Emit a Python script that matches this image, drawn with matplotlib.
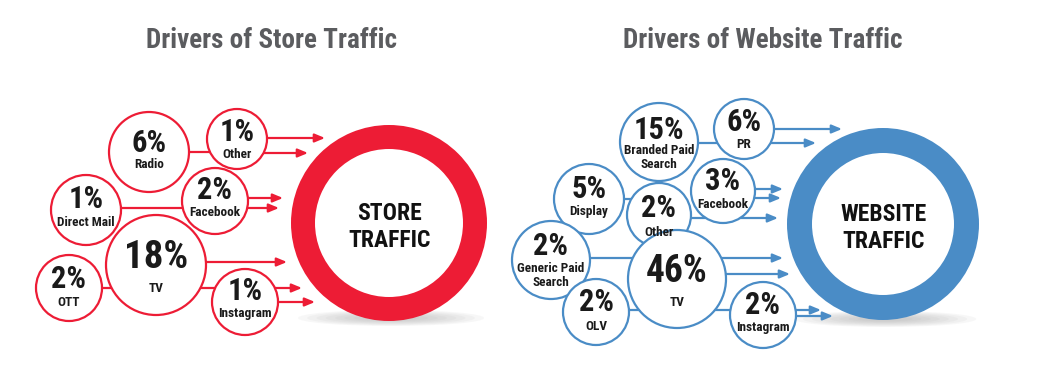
import matplotlib
matplotlib.use("Agg")
import matplotlib.pyplot as plt
from matplotlib.patches import Circle, Wedge, Ellipse
from matplotlib import font_manager as fm

# --- data ---
store_pcts = [6, 1, 1, 2, 18, 2, 1]
store_labels = ["Radio", "Other", "Direct Mail", "Facebook", "TV", "OTT", "Instagram"]
web_pcts = [15, 6, 5, 2, 3, 2, 2, 46, 2]
web_labels = ["Branded Paid\nSearch", "PR", "Display", "Other", "Facebook",
              "Generic Paid\nSearch", "OLV", "TV", "Instagram"]
titles = ["Drivers of Store Traffic", "Drivers of Website Traffic"]
hub_labels = ["STORE\nTRAFFIC", "WEBSITE\nTRAFFIC"]

RED = "#ED1C35"
BLUE = "#4A8CC6"
GREY = "#5B5C5F"

# pick a narrow bold face if there is one
FONT = dict(family="DejaVu Sans", fontstretch="condensed")
for fam in ["Liberation Sans Narrow", "Roboto Condensed", "Open Sans Condensed"]:
    try:
        fm.findfont(fm.FontProperties(family=fam, weight="bold"), fallback_to_default=False)
        FONT = dict(family=fam)
        break
    except ValueError:
        pass

# --- layout (pixel space): cx, cy, r, pct size, pct dy, label dy ---
store_circles = [
    (149, 152, 40, 22, -9, 13),
    (237, 139, 30, 22, -7, 15),
    (86, 210, 35, 22, -11, 12),
    (215, 201, 33, 22, -11, 12),
    (156, 265, 50, 28, -7, 24),
    (69, 288, 33, 22, -9, 15),
    (245, 302, 33, 22, -11, 12),
]
store_links = [(152, 149, 237), (208, 86, 215), (288, 69, 156), (288, 156, 245)]
store_arrows = [(138, 262, 325), (153, 262, 308), (198, 246, 283), (208, 246, 279),
                (262, 204, 287), (288, 274, 302), (302, 274, 315)]
store_hub = (389, 223, 98, 74)

web_circles = [
    (659, 142, 39, 22, -12, 16),
    (744, 129, 30, 22, -7, 15),
    (589, 199, 35, 22, -10, 13),
    (659, 215, 32, 22, -7, 17),
    (723, 191, 32, 22, -10, 13),
    (551, 260, 39, 22, -14, 16),
    (596, 312, 33, 22, -10, 15),
    (677, 279, 49, 27, -7, 24),
    (763, 315, 33, 22, -10, 13),
]
web_links = [(143, 659, 744), (199, 589, 659), (258, 551, 677), (310, 596, 677), (310, 677, 763)]
web_arrows = [(129, 772, 842), (143, 768, 816), (189, 752, 783), (198, 752, 781),
              (218, 689, 778), (258, 720, 783), (274, 722, 790), (310, 793, 821),
              (316, 793, 833)]
web_hub = (883, 224, 96, 71)

fig = plt.figure(figsize=(10.4, 3.71), dpi=100)
ax = fig.add_axes([0, 0, 1, 1])
ax.set_xlim(0, 1040)
ax.set_ylim(371, 0)
ax.set_aspect("equal")
ax.axis("off")


def draw_panel(pcts, labels, circles, links, arrows, hub, color, hub_text, title, title_x):
    ax.text(title_x, 40, title, ha="center", va="center", fontsize=19.5,
            fontweight="bold", color=GREY, **FONT)

    # connecting lines between bubbles
    for y, x0, x1 in links:
        ax.plot([x0, x1], [y, y], color=color, lw=1.6, zorder=1, solid_capstyle="butt")

    # arrows into the hub
    for y, x0, x1 in arrows:
        ax.annotate("", xy=(x1, y), xytext=(x0, y),
                    arrowprops=dict(arrowstyle="-|>,head_length=0.6,head_width=0.25",
                                    color=color, lw=1.6, shrinkA=0, shrinkB=0),
                    zorder=1)

    # shadow under the ring
    hx, hy, ro, ri = hub
    for k in range(8):
        f = 1 - k * 0.1
        ax.add_patch(Ellipse((hx + 2, hy + 95), 2 * ro * 0.95 * f, 16 * f,
                             facecolor="#9a9a9a", edgecolor="none", alpha=0.07, zorder=0))
    ax.add_patch(Circle((hx, hy), ri, facecolor="white", edgecolor="none", zorder=2))
    ax.add_patch(Wedge((hx, hy), ro, 0, 360, width=ro - ri, facecolor=color,
                       edgecolor="none", zorder=3))
    ax.text(hx + 1, hy + 4, hub_text, ha="center", va="center", fontsize=17,
            fontweight="bold", linespacing=1.25, color="#111111", zorder=4, **FONT)

    # bubbles
    for p, lab, (cx, cy, r, fs, dp, dl) in zip(pcts, labels, circles):
        ax.add_patch(Circle((cx, cy), r, facecolor="white", edgecolor=color, lw=1.6, zorder=5))
        ax.text(cx, cy + dp, f"{p}%", ha="center", va="center", fontsize=fs,
                fontweight="bold", color="#1a1a1a", zorder=6, **FONT)
        ax.text(cx, cy + dl, lab, ha="center", va="center", fontsize=9.5,
                fontweight="bold", color="#1a1a1a", linespacing=1.1, zorder=6, **FONT)


draw_panel(store_pcts, store_labels, store_circles, store_links, store_arrows,
           store_hub, RED, hub_labels[0], titles[0], 271)
draw_panel(web_pcts, web_labels, web_circles, web_links, web_arrows,
           web_hub, BLUE, hub_labels[1], titles[1], 763)

fig.savefig("out.png", dpi=100, facecolor="white")
